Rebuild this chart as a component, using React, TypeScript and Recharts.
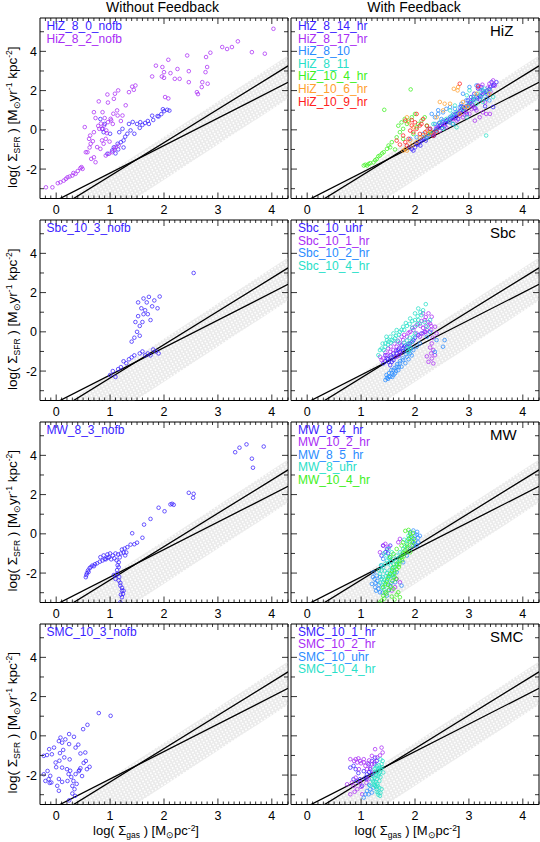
import React from 'react';
import { ComposedChart, XAxis, YAxis, Scatter } from 'recharts';

const FONT = '"Liberation Sans", Arial, Helvetica, sans-serif';
const C = {
  blue: '#3a22ff',
  purple: '#a92cf5',
  lblue: '#2a8cff',
  cyan: '#28e0c8',
  green: '#3ef020',
  orange: '#ffa030',
  red: '#ff2020',
};

// axes
const X_DOMAIN: [number, number] = [-0.3, 4.3];
const Y_DOMAIN: [number, number] = [-3.5, 5.7];
const X_LABELS = [0, 1, 2, 3, 4];
const Y_LABELS = [-2, 0, 2, 4];

// reference relations
const BAND_X = [-0.3, 4.3, 4.3, -0.3];
const BAND_Y = [-6.69, 1.59, 3.79, -4.49];
const KS_X = [-0.3, 4.3];
const KS_SHALLOW_Y = [-4.02, 2.42];
const KS_STEEP_Y = [-4.56, 3.26];

type P = [number, number];

// ---------- Without feedback ----------
const HIZ_8_0_NOFB: P[] = [[0.86,0.05],[0.88,-0.12],[1.17,-0.12],[1.23,0.05],[1.32,-0.2],[1.38,-0.03],[1.2,-0.63],[1.25,-0.54],[1.14,-0.71],[1.07,-0.89],[1.04,-1.05],[0.95,-1.22],[1.35,0.3],[1.5,0.3],[1.56,0.39],[1.42,0.4],[1.6,0.25],[1.65,0.35],[1.72,0.3],[1.8,0.5],[1.88,0.7],[1.95,0.8],[2.0,0.95],[2.06,1.02],[2.1,0.98],[1.98,1.05],[1.9,0.68],[1.78,0.72],[1.7,0.45],[1.55,0.1],[1.45,-0.2],[1.28,-0.35],[1.0,-0.2],[0.9,0.3],[0.82,0.55],[1.1,-1.2],[1.15,-1.0],[1.25,-0.9]];
const HIZ_8_2_NOFB: P[] = [[4.03,5.15],[3.87,3.88],[3.63,3.96],[3.37,4.51],[3.26,4.22],[3.17,4.12],[3.08,4.22],[2.86,3.93],[2.78,3.71],[2.43,3.79],[2.08,3.57],[1.85,3.27],[1.97,3.2],[2.0,2.94],[2.0,2.65],[2.12,2.89],[2.2,2.6],[2.29,2.6],[2.25,3.1],[2.46,2.99],[2.46,2.43],[2.77,2.94],[2.8,3.2],[2.71,2.43],[2.81,2.35],[2.7,2.18],[2.61,1.92],[2.63,1.82],[2.02,1.67],[2.08,1.6],[1.96,2.72],[1.78,2.72],[1.47,2.26],[1.44,2.04],[1.41,2.2],[1.35,1.92],[1.15,2.01],[1.09,1.84],[1.07,1.58],[0.95,1.8],[0.79,1.45],[0.96,1.39],[1.06,0.82],[1.13,0.99],[1.14,0.73],[1.02,0.48],[1.23,0.73],[1.29,1.25],[0.86,0.9],[0.7,0.9],[0.73,0.6],[0.53,0.14],[0.63,-0.29],[0.64,-0.71],[0.76,-0.88],[0.55,-1.14],[0.65,-1.48],[0.7,-1.4],[0.73,-1.65],[0.58,-1.14],[0.82,-0.97],[0.85,-0.54],[0.92,-0.46],[0.94,-0.17],[0.96,0.39],[1.01,0.56],[0.83,0.32],[0.8,0.05],[0.89,0.22],[0.85,0.05],[0.93,-0.03],[1.05,0.3],[0.61,-0.46],[0.62,-0.9],[0.7,-0.12],[0.68,-0.58],[0.88,-0.71],[1.16,-0.8],[1.1,-0.89],[1.04,-1.14],[0.98,-1.22],[0.92,-1.31],[0.49,-1.99],[0.45,-1.95],[0.4,-2.1],[0.36,-2.24],[0.3,-2.33],[0.25,-2.38],[0.21,-2.42],[0.14,-2.59],[0.08,-2.67],[-0.19,-2.93],[-0.07,-2.93],[0.03,-2.72],[0.18,-2.5],[0.32,-2.2],[0.47,-1.9],[0.9,0.6],[0.78,0.2],[1.2,0.45],[0.99,-0.6],[1.08,-1.0]];
const SBC_10_3_NOFB: P[] = [[2.55,3.0],[1.62,1.7],[1.68,1.5],[1.72,1.78],[1.78,1.3],[1.82,1.6],[1.88,1.2],[1.58,1.2],[1.62,0.9],[1.52,0.8],[1.47,0.5],[1.55,0.3],[1.5,0.0],[1.45,-0.3],[1.4,-0.5],[1.55,-0.2],[1.6,0.5],[1.7,0.9],[1.75,0.6],[1.65,1.1],[1.52,1.5],[1.92,1.8],[1.0,-2.2],[1.05,-2.0],[1.1,-2.3],[1.15,-1.9],[1.2,-1.8],[1.25,-1.5],[1.3,-1.6],[1.35,-1.4],[1.4,-1.3],[1.45,-1.2],[1.55,-1.1],[1.6,-1.0],[1.7,-1.1],[1.75,-1.2],[1.8,-0.9],[1.85,-1.0],[1.9,-1.1],[1.65,-1.2]];
const MW_8_3_NOFB: P[] = [[3.85,4.45],[3.53,4.56],[3.4,4.39],[3.32,4.16],[3.63,3.83],[3.65,3.37],[2.46,2.09],[2.55,2.04],[2.54,1.84],[2.15,1.53],[2.18,1.48],[2.12,1.5],[2.01,1.15],[1.9,1.33],[1.75,0.76],[1.63,0.47],[1.41,0.03],[1.6,-0.2],[1.45,-0.53],[1.5,-0.45],[1.38,-0.55],[1.32,-0.68],[1.22,-0.8],[1.27,-0.75],[0.82,-1.19],[0.88,-1.1],[0.95,-1.05],[1.0,-1.0],[1.05,-1.1],[1.1,-1.0],[1.15,-1.05],[1.2,-1.0],[1.25,-0.95],[1.3,-0.95],[1.28,-1.1],[1.18,-1.2],[1.08,-1.25],[0.98,-1.2],[1.02,-1.3],[1.12,-1.35],[0.92,-1.3],[0.55,-2.21],[0.56,-2.1],[0.57,-2.0],[0.59,-1.87],[0.62,-1.75],[0.67,-1.62],[0.72,-1.55],[0.76,-1.5],[0.81,-1.42],[0.86,-1.36],[0.9,-1.28],[0.95,-1.22],[0.6,-1.95],[0.64,-1.7],[0.7,-1.65],[1.16,-1.45],[1.14,-1.6],[1.16,-1.7],[1.13,-1.85],[1.13,-2.04],[1.17,-2.2],[1.16,-2.38],[1.19,-2.5],[1.19,-2.64],[1.22,-2.75],[1.22,-2.89],[1.24,-3.06],[1.22,-3.23],[1.19,-3.49],[1.1,-2.3],[1.07,-2.1],[1.25,-2.9],[1.2,-3.1]];
const SMC_10_3_NOFB: P[] = [[0.79,1.16],[1.01,1.02],[0.58,0.56],[0.5,0.34],[0.24,0.09],[0.33,-0.05],[0.08,-0.09],[0.17,-0.18],[0.05,-0.27],[0.11,-0.35],[0.24,-0.42],[-0.04,-0.6],[0.36,-0.6],[0.41,-0.45],[-0.13,-0.68],[-0.08,-0.94],[-0.23,-1.02],[-0.17,-0.98],[0.07,-0.88],[0.13,-0.72],[0.06,-1.27],[0.45,-0.9],[0.54,-0.85],[0.55,-1.28],[0.51,-1.38],[0.45,-1.65],[0.43,-1.75],[-0.01,-1.36],[0.11,-1.62],[0.2,-1.7],[0.26,-1.78],[0.23,-1.95],[-0.16,-1.79],[-0.11,-2.04],[-0.14,-2.21],[-0.09,-2.38],[0.05,-2.2],[0.11,-2.35],[0.21,-2.3],[0.3,-2.55],[0.34,-2.72],[0.3,-2.94],[0.35,-3.06],[0.24,-3.29],[0.05,-2.8],[0.02,-2.55],[0.36,-1.95],[0.42,-1.8],[0.48,-2.05],[0.57,-1.7],[0.62,-1.58],[-0.23,-1.96],[-0.2,-2.3],[-0.12,-2.4],[0.28,-2.1],[0.32,-2.3],[0.38,-2.45],[0.15,-1.1],[0.25,-1.2],[0.0,-1.6]];

// ---------- With feedback: HiZ ----------
const HIZ_8_14_HR: P[] = [[1.97,-1.06],[2.0,-0.89],[2.03,-0.72],[2.09,-0.63],[2.15,-0.46],[2.22,-0.38],[2.28,-0.21],[2.34,-0.12],[2.4,0.05],[2.46,0.2],[2.52,0.38],[2.58,0.45],[2.65,0.55],[2.71,0.65],[2.77,0.81],[2.83,0.95],[2.89,1.16],[2.95,1.2],[3.01,1.33],[3.07,1.5],[3.14,1.67],[3.2,1.75],[3.26,1.84],[3.32,1.95],[3.38,2.09],[3.45,2.25],[3.51,2.43],[3.42,2.43],[3.17,2.1],[3.23,2.18],[3.1,1.84],[3.04,1.67],[2.98,1.5],[2.86,1.2],[2.55,0.2],[2.45,0.35],[1.94,-0.98],[1.9,-0.9],[2.1,-0.8],[2.2,-0.55],[2.35,-0.3],[2.5,0.1],[2.62,0.4],[2.75,0.6],[2.9,0.95],[3.05,1.3],[3.2,1.55],[3.35,1.8],[3.45,1.16],[3.3,1.2],[2.7,0.3],[2.8,0.55],[2.96,0.8],[3.12,1.1],[2.05,-0.75],[2.12,-0.55],[2.18,-0.45],[2.25,-0.3],[2.31,-0.2],[2.38,-0.05],[2.43,0.1],[2.48,0.25],[2.56,0.35],[2.6,0.5],[2.68,0.6],[2.73,0.75],[2.8,0.85],[2.86,1.0],[2.92,1.1],[2.99,1.25],[3.03,1.4],[3.09,1.55],[3.16,1.6],[3.22,1.7],[3.28,1.9],[3.34,2.0],[3.4,2.2],[3.47,2.3]];
const HIZ_8_17_HR: P[] = [[3.17,2.26],[3.2,2.1],[3.38,2.35],[3.45,2.52],[3.48,2.25],[3.4,1.95],[3.26,1.95],[3.01,1.33],[3.07,1.25],[3.14,0.99],[3.26,0.89],[3.32,0.81],[3.39,0.81],[3.11,0.47],[3.2,0.64],[3.01,0.81],[2.89,0.64],[2.77,0.47],[2.65,0.38],[2.52,0.3],[2.4,0.13],[2.25,0.05],[2.34,-0.21],[2.71,0.55],[2.83,0.72],[2.95,0.9],[2.58,0.13],[2.46,-0.04],[3.3,1.4],[3.1,1.1],[3.35,2.15],[3.25,2.3],[3.05,1.05],[2.92,0.75]];
const HIZ_8_10: P[] = [[2.31,0.81],[2.37,0.64],[2.43,0.81],[2.52,0.89],[2.58,1.07],[2.65,1.16],[2.74,1.07],[2.86,1.33],[2.89,1.84],[3.01,2.18],[3.14,2.26],[3.26,2.01],[3.32,1.58],[3.38,1.5],[2.65,0.64],[2.52,0.47],[2.37,0.3],[2.28,0.05],[2.15,-0.21],[2.03,-0.38],[1.91,-0.46],[2.43,1.0],[2.95,1.5],[2.83,1.16],[2.71,0.81],[2.49,0.55]];
const HIZ_8_11: P[] = [[3.32,-0.29],[2.65,0.38],[2.71,0.3],[2.77,0.13],[2.52,0.05],[2.4,-0.04],[2.28,-0.21],[2.96,0.64],[3.14,1.33],[3.23,1.67],[3.26,1.42],[3.32,1.84],[3.38,2.01],[3.01,2.01],[2.96,1.76],[3.08,1.67],[3.45,1.67],[2.34,0.3],[2.46,0.38],[2.58,0.55],[2.68,0.72],[2.77,0.89],[2.89,1.07],[2.98,1.24],[3.04,1.41],[3.11,1.55],[3.17,1.84],[3.23,2.01],[3.29,2.1],[2.65,0.99],[2.74,1.24],[2.22,-0.38]];
const HIZ_10_4_HR: P[] = [[1.92,2.06],[1.43,1.02],[1.05,-1.82],[1.14,-1.74],[1.23,-1.66],[1.29,-1.49],[1.35,-1.31],[1.42,-1.14],[1.48,-0.97],[1.51,-0.8],[1.57,-0.63],[1.66,-0.38],[1.72,-0.12],[1.78,0.05],[1.85,0.3],[1.88,0.47],[1.94,0.64],[2.0,0.81],[2.06,0.3],[2.12,0.47],[2.18,0.64],[2.22,0.22],[2.03,0.13],[1.97,-0.21],[1.78,-0.46],[1.54,-0.89],[1.63,-1.0],[1.69,0.21],[1.75,0.38],[1.81,0.55],[1.39,-1.2],[1.32,-1.35],[1.26,-1.55],[1.17,-1.7],[1.08,-1.78],[1.11,-1.82],[2.28,-0.12]];
const HIZ_10_6_HR: P[] = [[2.8,2.18],[2.72,2.09],[2.79,2.01],[2.46,1.42],[2.55,1.33],[2.65,1.33],[2.89,1.42],[2.92,1.16],[2.98,1.16],[1.85,0.64],[1.88,0.38],[1.97,0.13],[2.22,-0.04],[2.25,-0.21],[2.31,-0.12],[2.15,-0.29],[1.91,-0.55],[1.82,-0.97],[1.78,-1.06],[1.94,-0.8],[2.03,-0.63],[2.09,-0.4],[2.52,0.99],[2.4,0.64],[2.83,0.81],[3.38,1.84],[3.14,1.84],[1.85,-1.06]];
const HIZ_10_9_HR: P[] = [[2.0,0.38],[2.09,0.22],[2.15,0.55],[1.94,0.22],[1.91,-0.04],[1.97,-0.12],[2.09,-0.21],[1.88,-0.46],[1.82,-0.63],[1.72,-0.75],[1.66,-0.55],[1.78,-0.29],[2.03,0.05],[2.28,0.05],[2.19,-0.12],[2.34,-0.3],[2.4,-0.1],[2.83,2.35],[3.17,2.21],[2.03,0.81],[1.94,0.5],[1.82,0.47],[2.12,0.3],[1.85,-0.8],[2.22,0.2]];

// ---------- With feedback: Sbc ----------
const SBC_10_UHR: P[] = [[1.75,-0.68],[1.78,-0.85],[1.69,-0.93],[1.66,-1.1],[1.63,-1.27],[1.6,-1.44],[1.57,-1.53],[1.54,-1.7],[1.51,-1.53],[1.72,-1.02],[1.78,-0.98],[1.85,-0.76],[1.91,-0.59],[1.97,-0.42],[2.06,-0.17],[2.12,-0.08],[2.18,0.0],[1.45,-1.19],[1.48,-1.36],[1.41,-1.61],[1.82,-0.7],[1.88,-0.6],[1.7,-1.2],[1.56,-1.3],[1.5,-1.4],[1.55,-1.2],[1.6,-1.1],[1.65,-0.95],[1.7,-0.85],[1.8,-0.75],[1.95,-0.5],[2.0,-0.3],[1.45,-1.5]];
const SBC_10_1_HR: P[] = [[2.25,0.94],[2.31,0.77],[2.28,0.42],[2.22,0.09],[2.15,-0.08],[2.09,-0.25],[2.03,-0.08],[1.97,0.09],[2.0,0.26],[1.91,0.0],[1.85,-0.25],[1.78,-0.42],[1.72,-0.59],[1.66,-0.76],[1.6,-0.93],[1.54,-1.02],[1.48,-1.19],[1.41,-1.36],[1.38,-1.44],[1.35,-1.27],[2.34,-0.93],[2.37,-1.19],[2.31,-1.36],[2.25,-1.53],[2.34,-1.61],[2.31,-0.59],[2.4,-0.08],[2.37,0.26],[2.18,0.6],[2.15,0.94],[1.72,-1.1],[1.66,-1.27],[2.1,0.3],[2.2,0.3],[2.3,0.1],[1.45,-1.05],[1.5,-0.85],[1.55,-0.75],[1.62,-0.6],[1.68,-0.45],[1.75,-0.25],[1.8,-0.15],[1.88,-0.05],[1.95,0.2],[2.05,0.4],[2.12,0.55],[2.2,0.75],[2.25,0.5],[2.3,0.3],[2.33,-0.3],[2.28,-0.8],[2.3,-1.1],[2.22,-1.25],[2.2,0.0],[2.15,0.2]];
const SBC_10_2_HR: P[] = [[1.45,-2.46],[1.51,-2.29],[1.57,-2.12],[1.6,-1.95],[1.66,-1.78],[1.72,-1.61],[1.78,-1.44],[1.85,-1.27],[1.91,-1.1],[1.97,-0.93],[2.03,-0.76],[2.09,-0.59],[1.63,-2.12],[1.69,-1.95],[1.75,-1.78],[1.54,-2.29],[1.6,-2.2],[2.55,-0.42],[2.52,-0.76],[2.4,-0.42],[2.37,-1.02],[2.22,-0.25],[2.28,0.0],[1.82,-1.6],[1.88,-1.4],[1.94,-1.2],[1.48,-2.35],[1.47,-2.2],[1.52,-2.1],[1.56,-1.95],[1.62,-1.85],[1.67,-1.65],[1.72,-1.5],[1.77,-1.35],[1.83,-1.15],[1.88,-1.0],[1.93,-0.85],[1.5,-2.4],[1.58,-2.3],[1.65,-2.0],[1.7,-1.8]];
const SBC_10_4_HR: P[] = [[2.06,1.19],[2.2,1.41],[2.0,0.94],[2.12,0.85],[2.09,0.42],[2.03,0.34],[2.06,0.6],[2.18,0.5],[1.91,0.68],[1.78,0.26],[1.66,0.09],[1.72,0.0],[1.6,-0.08],[1.54,-0.25],[1.48,-0.42],[1.45,-0.59],[1.51,-0.5],[1.57,-0.42],[1.63,-0.33],[1.69,-0.5],[1.35,-0.93],[1.32,-1.19],[1.88,-0.68],[1.91,-0.85],[1.85,-0.85],[1.88,-1.02],[1.94,-0.51],[1.97,-0.25],[2.0,-0.08],[2.22,0.26],[2.28,0.6],[1.45,-0.76],[1.42,-0.93],[1.83,0.45],[1.95,0.2],[1.5,-0.65],[1.55,-0.55],[1.6,-0.45],[1.65,-0.2],[1.7,-0.15],[1.75,0.1],[1.8,0.1],[1.85,0.3],[1.9,0.4],[1.95,0.55],[2.0,0.6],[2.05,0.8],[2.1,1.0],[2.15,1.1],[1.8,-0.55],[1.85,-0.45],[1.9,-0.3],[1.38,-0.85],[1.4,-0.6],[1.47,-0.25]];

// ---------- With feedback: MW ----------
const MW_8_4_HR: P[] = [[1.41,-0.6],[1.48,-0.77],[1.45,-0.94],[1.38,-1.11],[1.54,-0.6],[1.5,-1.0]];
const MW_10_2_HR: P[] = [[1.72,-0.26],[1.69,-0.43],[1.45,-0.51],[1.41,-0.6],[1.51,-0.68],[1.35,-0.94],[1.66,-2.3],[1.72,-2.47],[1.57,-2.89],[1.63,-2.72]];
const MW_8_5_HR: P[] = [[1.91,0.08],[1.97,0.17],[2.03,-0.04],[2.06,-0.2],[2.0,-0.35],[1.97,-0.6],[1.91,-0.77],[1.85,-1.11],[1.78,-1.45],[1.66,-1.96],[1.29,-2.13],[1.23,-1.96],[1.2,-2.55],[1.26,-2.72],[1.32,-2.81],[1.35,-2.98],[1.51,-2.89],[1.54,-2.64],[1.38,-1.62],[1.41,-1.28],[1.6,-2.22],[1.63,-2.47],[1.48,-3.15],[1.75,-2.64],[2.03,-0.6],[2.06,-0.43],[2.09,-0.1],[1.3,-2.4],[1.25,-2.3],[1.95,-0.2],[2.0,-0.1],[2.04,0.1],[1.99,-0.5],[1.94,-0.4],[1.27,-2.5],[1.22,-2.2],[1.33,-2.6],[1.28,-2.9],[1.35,-2.2],[1.4,-3.0],[1.56,-2.5]];
const MW_8_UHR: P[] = [[1.51,-0.77],[1.57,-0.94],[1.54,-1.19],[1.48,-1.36],[1.45,-1.53],[1.41,-1.7],[1.38,-1.87],[1.35,-2.04],[1.38,-2.3],[1.41,-2.47],[1.45,-2.64],[1.6,-1.28],[1.66,-1.11],[1.69,-1.45],[1.63,-1.7],[1.57,-1.96],[1.51,-2.13],[1.72,-0.94],[1.78,-0.77],[1.85,-0.51],[1.5,-1.5],[1.44,-1.9],[1.55,-1.6],[1.4,-2.2],[1.65,-1.4],[1.8,-0.3],[1.88,-0.1],[1.42,-1.0],[1.47,-1.1],[1.52,-1.25],[1.56,-1.4],[1.6,-1.55],[1.58,-1.75],[1.53,-1.85],[1.48,-2.0],[1.46,-2.15],[1.43,-2.35],[1.47,-2.45],[1.5,-2.3],[1.54,-2.15],[1.59,-2.1],[1.62,-1.9],[1.67,-1.6],[1.71,-1.25],[1.75,-1.05],[1.82,-0.65],[1.86,-0.35],[1.9,-0.2],[1.36,-2.5],[1.39,-2.75],[1.43,-2.85],[1.37,-1.6],[1.33,-1.85]];
const MW_10_4_HR: P[] = [[1.91,0.0],[1.88,-0.26],[1.85,-0.6],[1.81,-0.85],[1.78,-1.0],[1.75,-1.19],[1.72,-1.36],[1.66,-1.53],[1.6,-1.7],[1.57,-1.87],[1.54,-2.04],[1.51,-2.2],[1.48,-2.38],[1.45,-2.55],[1.41,-2.72],[1.45,-2.98],[1.41,-3.15],[1.38,-3.4],[1.35,-3.5],[1.69,-2.98],[1.72,-3.23],[1.66,-3.1],[1.6,-2.8],[1.54,-1.19],[1.6,-1.02],[1.66,-0.77],[1.75,-0.6],[1.78,-0.43],[1.94,-0.6],[1.97,-0.43],[1.91,-0.94],[1.65,-2.3],[1.82,0.15],[1.88,0.2],[1.7,-1.7],[1.62,-2.0],[1.5,-2.6],[1.86,-0.7],[1.83,-0.95],[1.79,-1.15],[1.76,-1.35],[1.71,-1.55],[1.66,-1.8],[1.62,-2.2],[1.58,-2.4],[1.55,-2.7],[1.52,-2.85],[1.47,-3.05],[1.43,-3.3],[1.9,-0.4],[1.93,-0.15],[1.96,0.05],[1.98,-0.25],[1.57,-3.2],[1.62,-3.35]];

// ---------- With feedback: SMC ----------
const SMC_10_1_HR: P[] = [[0.8,-1.62],[0.86,-1.53],[1.14,-1.45],[1.17,-1.7],[1.11,-1.96],[1.08,-2.13],[0.98,-2.21],[0.93,-2.3],[0.86,-2.21],[1.02,-2.55],[1.29,-1.28],[1.26,-1.11],[1.2,-1.28],[0.95,-1.9],[1.05,-1.8],[1.15,-1.85],[1.2,-1.95],[1.1,-2.2],[0.9,-1.7],[1.25,-1.45]];
const SMC_10_2_HR: P[] = [[1.26,-0.68],[1.38,-0.6],[1.2,-1.02],[0.9,-1.19],[0.87,-1.28],[0.93,-1.36],[0.98,-1.28],[1.05,-1.19],[0.8,-1.19],[1.08,-1.53],[1.17,-1.62],[1.2,-1.45],[1.11,-1.7],[1.23,-1.87],[1.14,-2.21],[0.98,-2.38],[0.93,-2.72],[0.86,-2.55],[0.8,-2.98],[1.02,-2.98],[0.9,-2.13],[0.83,-2.38],[0.74,-2.47],[0.96,-1.7],[1.0,-1.4],[1.3,-1.1],[1.05,-1.35],[1.12,-1.4],[0.95,-1.15],[1.15,-1.25],[1.25,-1.35],[1.35,-1.0],[1.4,-0.85],[1.1,-2.4],[0.88,-2.85],[1.0,-2.6]];
const SMC_10_UHR: P[] = [[1.08,-2.98],[1.05,-3.15],[1.11,-2.81],[1.17,-2.72],[1.14,-2.98],[1.2,-2.89],[1.23,-2.64],[1.15,-2.5]];
const SMC_10_4_HR: P[] = [[1.29,-1.53],[1.32,-1.7],[1.35,-1.62],[1.38,-1.45],[1.26,-1.87],[1.23,-2.04],[1.2,-2.21],[1.29,-2.21],[1.32,-2.04],[1.35,-1.87],[1.23,-2.38],[1.26,-2.55],[1.29,-2.72],[1.32,-2.89],[1.35,-3.06],[1.38,-2.72],[1.3,-2.45],[1.17,-2.55],[1.41,-1.87],[1.4,-1.28],[1.36,-1.2],[1.25,-1.7],[1.34,-2.3],[1.27,-1.65],[1.3,-1.8],[1.33,-1.95],[1.36,-2.1],[1.28,-2.0],[1.25,-2.15],[1.22,-2.3],[1.27,-2.35],[1.31,-2.55],[1.34,-2.65],[1.29,-2.85],[1.33,-1.5],[1.37,-1.7],[1.39,-1.6],[1.24,-2.5],[1.28,-2.6],[1.32,-3.0],[1.36,-2.9]];

type Series = { name: string; color: string; data: P[] };
type PanelCfg = { id: string; col: number; row: number; label?: string; series: Series[] };

const PANELS: PanelCfg[] = [
  { id: 'a', col: 0, row: 0, series: [
    { name: 'HiZ_8_0_nofb', color: C.blue, data: HIZ_8_0_NOFB },
    { name: 'HiZ_8_2_nofb', color: C.purple, data: HIZ_8_2_NOFB } ] },
  { id: 'b', col: 1, row: 0, label: 'HiZ', series: [
    { name: 'HiZ_8_14_hr', color: C.blue, data: HIZ_8_14_HR },
    { name: 'HiZ_8_17_hr', color: C.purple, data: HIZ_8_17_HR },
    { name: 'HiZ_8_10', color: C.lblue, data: HIZ_8_10 },
    { name: 'HiZ_8_11', color: C.cyan, data: HIZ_8_11 },
    { name: 'HiZ_10_4_hr', color: C.green, data: HIZ_10_4_HR },
    { name: 'HiZ_10_6_hr', color: C.orange, data: HIZ_10_6_HR },
    { name: 'HiZ_10_9_hr', color: C.red, data: HIZ_10_9_HR } ] },
  { id: 'c', col: 0, row: 1, series: [
    { name: 'Sbc_10_3_nofb', color: C.blue, data: SBC_10_3_NOFB } ] },
  { id: 'd', col: 1, row: 1, label: 'Sbc', series: [
    { name: 'Sbc_10_uhr', color: C.blue, data: SBC_10_UHR },
    { name: 'Sbc_10_1_hr', color: C.purple, data: SBC_10_1_HR },
    { name: 'Sbc_10_2_hr', color: C.lblue, data: SBC_10_2_HR },
    { name: 'Sbc_10_4_hr', color: C.cyan, data: SBC_10_4_HR } ] },
  { id: 'e', col: 0, row: 2, series: [
    { name: 'MW_8_3_nofb', color: C.blue, data: MW_8_3_NOFB } ] },
  { id: 'f', col: 1, row: 2, label: 'MW', series: [
    { name: 'MW_8_4_hr', color: C.blue, data: MW_8_4_HR },
    { name: 'MW_10_2_hr', color: C.purple, data: MW_10_2_HR },
    { name: 'MW_8_5_hr', color: C.lblue, data: MW_8_5_HR },
    { name: 'MW_8_uhr', color: C.cyan, data: MW_8_UHR },
    { name: 'MW_10_4_hr', color: C.green, data: MW_10_4_HR } ] },
  { id: 'g', col: 0, row: 3, series: [
    { name: 'SMC_10_3_nofb', color: C.blue, data: SMC_10_3_NOFB } ] },
  { id: 'h', col: 1, row: 3, label: 'SMC', series: [
    { name: 'SMC_10_1_hr', color: C.blue, data: SMC_10_1_HR },
    { name: 'SMC_10_2_hr', color: C.purple, data: SMC_10_2_HR },
    { name: 'SMC_10_uhr', color: C.lblue, data: SMC_10_UHR },
    { name: 'SMC_10_4_hr', color: C.cyan, data: SMC_10_4_HR } ] },
];

// layout
const COL_LEFT = [39.5, 291];
const ROW_TOP = [18, 220, 421.5, 623.5];
const PLOT_W = 248;
const PLOT_H = 180.5;
const ML = 40, MR = 1, MT = 4, MB = 22;

const X_TICKS: number[] = [];
for (let i = -2; i <= 43; i++) X_TICKS.push(i / 10);
const Y_TICKS: number[] = [];
for (let i = -3; i <= 5; i++) Y_TICKS.push(i);

const isInt = (v: number) => Math.abs(v - Math.round(v)) < 1e-6;

const bottomTick = (props: any) => {
  const { x, y, payload } = props;
  const v = payload.value;
  const major = isInt(v);
  return (
    <g>
      <line x1={x} x2={x} y1={y} y2={y - (major ? 6 : 3)} stroke="#000" strokeWidth={0.8} />
      {major && X_LABELS.includes(Math.round(v)) && (
        <text x={x} y={y + 15.5} textAnchor="middle" fontSize={12.5} fontFamily={FONT} fill="#000">{Math.round(v)}</text>
      )}
    </g>
  );
};
const topTick = (props: any) => {
  const { x, y, payload } = props;
  const major = isInt(payload.value);
  return <line x1={x} x2={x} y1={y} y2={y + (major ? 6 : 3)} stroke="#000" strokeWidth={0.8} />;
};
const leftTick = (showLabel: boolean) => (props: any) => {
  const { x, y, payload } = props;
  const v = payload.value;
  const major = Math.round(v) % 2 === 0;
  return (
    <g>
      <line x1={x} x2={x + (major ? 6 : 4)} y1={y} y2={y} stroke="#000" strokeWidth={0.8} />
      {showLabel && Y_LABELS.includes(v) && (
        <text x={x - 3} y={y + 4.5} textAnchor="end" fontSize={12.5} fontFamily={FONT} fill="#000">{v}</text>
      )}
    </g>
  );
};
const rightTick = (props: any) => {
  const { x, y, payload } = props;
  const major = Math.round(payload.value) % 2 === 0;
  return <line x1={x} x2={x - (major ? 6 : 4)} y1={y} y2={y} stroke="#000" strokeWidth={0.8} />;
};

const circleShape = (color: string) => (p: any) => (
  <circle cx={p.cx} cy={p.cy} r={1.8} fill="none" stroke={color} strokeWidth={0.75} />
);
const noShape = () => <g />;

const bandData = BAND_X.map((x, i) => ({ x, y: BAND_Y[i] }));
const shallowData = KS_X.map((x, i) => ({ x, y: KS_SHALLOW_Y[i] }));
const steepData = KS_X.map((x, i) => ({ x, y: KS_STEEP_Y[i] }));

function Panel({ cfg }: { cfg: PanelCfg }) {
  const left = COL_LEFT[cfg.col] - ML;
  const top = ROW_TOP[cfg.row] - MT;
  const pid = `band-${cfg.id}`;
  return (
    <div style={{ position: 'absolute', left, top }}>
      <ComposedChart width={ML + PLOT_W + MR} height={MT + PLOT_H + MB}
        margin={{ top: MT - 1, right: MR - 1, bottom: MB - 1, left: ML - 1 }}>
        <defs>
          <pattern id={pid} width={3.6} height={3.2} patternUnits="userSpaceOnUse" patternTransform="rotate(-30)">
            <circle cx={1.8} cy={1.6} r={1.15} fill="none" stroke="#c4c4c4" strokeWidth={0.45} />
          </pattern>
        </defs>
        <Scatter xAxisId="t" yAxisId="r" data={bandData} line={{ fill: `url(#${pid})`, stroke: 'none' }} lineJointType="linear"
          shape={noShape} isAnimationActive={false} />
        <Scatter xAxisId="t" yAxisId="r" data={shallowData} line={{ stroke: '#000', strokeWidth: 1.3 }} lineJointType="linear"
          shape={noShape} isAnimationActive={false} />
        <Scatter xAxisId="t" yAxisId="r" data={steepData} line={{ stroke: '#000', strokeWidth: 1.3 }} lineJointType="linear"
          shape={noShape} isAnimationActive={false} />
        {cfg.series.map((s) => (
          <Scatter key={s.name} name={s.name} xAxisId="b" yAxisId="l" data={s.data.map(([x, y]) => ({ x, y }))}
            shape={circleShape(s.color)} isAnimationActive={false} />
        ))}
        <XAxis xAxisId="b" type="number" dataKey="x" domain={X_DOMAIN} allowDataOverflow ticks={X_TICKS} interval={0}
          height={1} tickSize={0} tickMargin={0} tickLine={false} axisLine={{ stroke: '#000', strokeWidth: 1 }} tick={bottomTick} />
        <XAxis xAxisId="t" orientation="top" type="number" dataKey="x" domain={X_DOMAIN} allowDataOverflow ticks={X_TICKS} interval={0}
          height={1} tickSize={0} tickMargin={0} tickLine={false} axisLine={{ stroke: '#000', strokeWidth: 1 }} tick={topTick} />
        <YAxis yAxisId="l" type="number" dataKey="y" domain={Y_DOMAIN} allowDataOverflow ticks={Y_TICKS} interval={0}
          width={1} tickSize={0} tickMargin={0} tickLine={false} axisLine={{ stroke: '#000', strokeWidth: 1 }} tick={leftTick(cfg.col === 0)} />
        <YAxis yAxisId="r" orientation="right" type="number" dataKey="y" domain={Y_DOMAIN} allowDataOverflow ticks={Y_TICKS} interval={0}
          width={1} tickSize={0} tickMargin={0} tickLine={false} axisLine={{ stroke: '#000', strokeWidth: 1 }} tick={rightTick} />
      </ComposedChart>
    </div>
  );
}

function YTitle({ cy }: { cy: number }) {
  return (
    <text transform={`translate(17, ${cy}) rotate(-90)`} textAnchor="middle" fontSize={13.5} fontFamily={FONT} fill="#000">
      log( Σ<tspan dy={3} fontSize={8.5}>SFR</tspan><tspan dy={-3}> )  [M</tspan><tspan dy={3} fontSize={9}>⊙</tspan><tspan dy={-3}>yr</tspan><tspan dy={-5} fontSize={8.5}>-1</tspan><tspan dy={5}> kpc</tspan><tspan dy={-5} fontSize={8.5}>-2</tspan><tspan dy={5}>]</tspan>
    </text>
  );
}

function XTitle({ cx }: { cx: number }) {
  return (
    <text x={cx} y={835} textAnchor="middle" fontSize={13} fontFamily={FONT} fill="#000">
      log( Σ<tspan dy={2.5} fontSize={8.5}>gas</tspan><tspan dy={-2.5}> )  [M</tspan><tspan dy={2.5} fontSize={9}>⊙</tspan><tspan dy={-2.5}>pc</tspan><tspan dy={-4} fontSize={8.5}>-2</tspan><tspan dy={4}>]</tspan>
    </text>
  );
}

export default function App() {
  return (
    <div style={{ position: 'absolute', left: 0, top: 0, width: 540, height: 842, overflow: 'hidden', background: '#fff' }}>
      {PANELS.map((p) => <Panel key={p.id} cfg={p} />)}
      <svg width={540} height={842} style={{ position: 'absolute', left: 0, top: 0, pointerEvents: 'none' }}>
        <g style={{ whiteSpace: 'pre' }}>
          <text x={162.5} y={12} textAnchor="middle" fontSize={14} fontFamily={FONT} fill="#000">Without Feedback</text>
          <text x={414} y={12} textAnchor="middle" fontSize={14} fontFamily={FONT} fill="#000">With Feedback</text>
          {ROW_TOP.map((t, i) => <YTitle key={i} cy={t + PLOT_H / 2 + 9} />)}
          <XTitle cx={146} />
          <XTitle cx={407.5} />
          {PANELS.map((p) => (
            <g key={p.id}>
              {p.series.map((s, i) => (
                <text key={s.name} x={COL_LEFT[p.col] + 7} y={ROW_TOP[p.row] + 12 + i * 12.6} fontSize={12} fontFamily={FONT} fill={s.color}>{s.name}</text>
              ))}
              {p.label && (
                <text x={490} y={ROW_TOP[p.row] + 18} fontSize={15} fontFamily={FONT} fill="#000">{p.label}</text>
              )}
            </g>
          ))}
        </g>
      </svg>
    </div>
  );
}
